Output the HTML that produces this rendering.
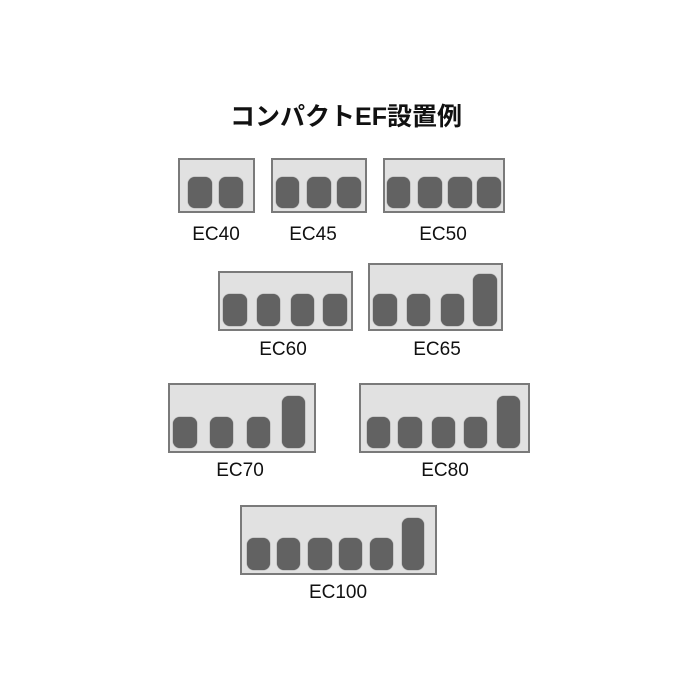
<!DOCTYPE html>
<html><head><meta charset="utf-8"><style>
body{margin:0;width:700px;height:700px;background:#fff;position:relative;overflow:hidden;font-family:"Liberation Sans","Noto Sans CJK JP",sans-serif}
.b{position:absolute;background:#e1e1e1;border:2px solid #7a7a7a;box-sizing:border-box}
.k{position:absolute;background:#626262;border-radius:7px;box-shadow:0 0 1px #444}
.l{position:absolute;font-size:19px;color:#111;transform:translateX(-50%);line-height:19px;white-space:nowrap}
.t{position:absolute;left:230px;top:97px;font-size:25px;font-weight:bold;color:#111;width:232px;text-align:center;font-family:"Liberation Sans","Noto Sans CJK JP",sans-serif}
</style></head><body>
<div class="t">コンパクトEF設置例</div>

<div class="b" style="left:178px;top:158px;width:77px;height:55px"></div>
<div class="k" style="left:188px;top:177px;width:24px;height:31px"></div>
<div class="k" style="left:219px;top:177px;width:24px;height:31px"></div>
<div class="l" style="left:216px;top:225px">EC40</div>

<div class="b" style="left:271px;top:158px;width:96px;height:55px"></div>
<div class="k" style="left:276px;top:177px;width:23px;height:31px"></div>
<div class="k" style="left:307px;top:177px;width:24px;height:31px"></div>
<div class="k" style="left:337px;top:177px;width:24px;height:31px"></div>
<div class="l" style="left:313px;top:225px">EC45</div>

<div class="b" style="left:383px;top:158px;width:122px;height:55px"></div>
<div class="k" style="left:387px;top:177px;width:23px;height:31px"></div>
<div class="k" style="left:418px;top:177px;width:24px;height:31px"></div>
<div class="k" style="left:448px;top:177px;width:24px;height:31px"></div>
<div class="k" style="left:477px;top:177px;width:24px;height:31px"></div>
<div class="l" style="left:443px;top:225px">EC50</div>

<div class="b" style="left:218px;top:271px;width:135px;height:60px"></div>
<div class="k" style="left:223px;top:294px;width:24px;height:32px"></div>
<div class="k" style="left:257px;top:294px;width:23px;height:32px"></div>
<div class="k" style="left:291px;top:294px;width:23px;height:32px"></div>
<div class="k" style="left:323px;top:294px;width:24px;height:32px"></div>
<div class="l" style="left:283px;top:340px">EC60</div>

<div class="b" style="left:368px;top:263px;width:135px;height:68px"></div>
<div class="k" style="left:373px;top:294px;width:24px;height:32px"></div>
<div class="k" style="left:407px;top:294px;width:23px;height:32px"></div>
<div class="k" style="left:441px;top:294px;width:23px;height:32px"></div>
<div class="k" style="left:473px;top:274px;width:24px;height:52px"></div>
<div class="l" style="left:437px;top:340px">EC65</div>

<div class="b" style="left:168px;top:383px;width:148px;height:70px"></div>
<div class="k" style="left:173px;top:417px;width:24px;height:31px"></div>
<div class="k" style="left:210px;top:417px;width:23px;height:31px"></div>
<div class="k" style="left:247px;top:417px;width:23px;height:31px"></div>
<div class="k" style="left:282px;top:396px;width:23px;height:52px"></div>
<div class="l" style="left:240px;top:461px">EC70</div>

<div class="b" style="left:359px;top:383px;width:171px;height:70px"></div>
<div class="k" style="left:367px;top:417px;width:23px;height:31px"></div>
<div class="k" style="left:398px;top:417px;width:24px;height:31px"></div>
<div class="k" style="left:432px;top:417px;width:23px;height:31px"></div>
<div class="k" style="left:464px;top:417px;width:23px;height:31px"></div>
<div class="k" style="left:497px;top:396px;width:23px;height:52px"></div>
<div class="l" style="left:445px;top:461px">EC80</div>

<div class="b" style="left:240px;top:505px;width:197px;height:70px"></div>
<div class="k" style="left:247px;top:538px;width:23px;height:32px"></div>
<div class="k" style="left:277px;top:538px;width:23px;height:32px"></div>
<div class="k" style="left:308px;top:538px;width:24px;height:32px"></div>
<div class="k" style="left:339px;top:538px;width:23px;height:32px"></div>
<div class="k" style="left:370px;top:538px;width:23px;height:32px"></div>
<div class="k" style="left:402px;top:518px;width:22px;height:52px"></div>
<div class="l" style="left:338px;top:583px">EC100</div>
</body></html>
